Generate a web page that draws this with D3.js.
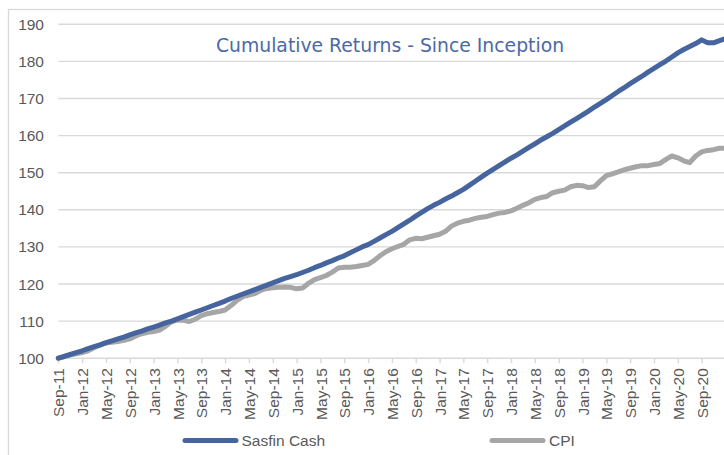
<!DOCTYPE html>
<html>
<head>
<meta charset="utf-8">
<script src="https://cdn.jsdelivr.net/npm/d3@7"></script>
<style>
  html, body { margin: 0; padding: 0; background: #fff; }
  svg { display: block; }
</style>
</head>
<body>
<div id="chart"></div>
<script>
// ---- data ----
const startMonth = "2011-09-01";
const monthCount = 113; // Sep-11 .. Jan-21
const sasfinCash = [
  100.0,100.5,101.0,101.5,102.0,102.6,103.1,103.6,104.2,104.7,
  105.2,105.7,106.3,106.8,107.3,107.9,108.4,108.9,109.5,110.0,
  110.6,111.2,111.8,112.4,113.0,113.6,114.2,114.8,115.4,116.1,
  116.7,117.3,117.9,118.5,119.1,119.7,120.3,120.9,121.5,122.0,
  122.5,123.1,123.7,124.4,125.0,125.7,126.3,127.0,127.6,128.4,
  129.2,130.0,130.6,131.5,132.4,133.3,134.2,135.2,136.2,137.2,
  138.3,139.3,140.3,141.2,142.0,142.9,143.7,144.6,145.5,146.6,
  147.7,148.8,149.9,150.9,151.9,152.9,153.9,154.8,155.8,156.8,
  157.8,158.8,159.7,160.6,161.6,162.6,163.6,164.6,165.6,166.6,
  167.7,168.7,169.7,170.8,171.9,172.9,174.0,175.0,176.0,177.1,
  178.1,179.1,180.1,181.2,182.3,183.2,184.0,184.8,185.8,185.0,
  185.0,185.6,186.1
];
const cpi = [
  100.0,100.4,100.9,101.2,101.5,102.0,102.8,103.5,104.1,104.3,
  104.5,104.8,105.2,106.0,106.6,107.0,107.2,107.6,108.6,109.8,
  110.3,110.2,109.9,110.5,111.5,112.0,112.3,112.6,113.0,114.2,
  115.6,116.6,117.0,117.4,118.3,118.8,119.0,119.1,119.2,119.1,
  118.7,118.9,120.2,121.2,121.7,122.3,123.2,124.3,124.5,124.5,
  124.7,125.0,125.3,126.3,127.6,128.7,129.5,130.1,130.7,131.9,
  132.3,132.2,132.6,133.0,133.4,134.2,135.6,136.4,136.9,137.2,
  137.7,138.0,138.2,138.7,139.1,139.3,139.7,140.4,141.2,141.9,
  142.8,143.3,143.6,144.6,145.0,145.3,146.2,146.6,146.5,146.0,
  146.2,147.8,149.2,149.7,150.2,150.8,151.2,151.6,151.9,151.9,
  152.2,152.5,153.6,154.5,154.0,153.2,152.7,154.5,155.6,156.0,
  156.2,156.6,156.6
];
const tickLabels = ["Sep-11","Jan-12","May-12","Sep-12","Jan-13","May-13","Sep-13","Jan-14",
  "May-14","Sep-14","Jan-15","May-15","Sep-15","Jan-16","May-16","Sep-16","Jan-17","May-17",
  "Sep-17","Jan-18","May-18","Sep-18","Jan-19","May-19","Sep-19","Jan-20","May-20","Sep-20"];
const yTicks = [100,110,120,130,140,150,160,170,180,190];
const seriesNames = ["Sasfin Cash", "CPI"];
const title = "Cumulative Returns - Since Inception";

// ---- layout ----
const W = 724, H = 455;
const fmt = d3.timeFormat("%b-%y");
const start = new Date(startMonth + "T00:00:00");
const categories = d3.range(monthCount).map(i => fmt(d3.timeMonth.offset(start, i)));

const x0 = 58.3, step = 5.957;
const x = d3.scalePoint().domain(categories).range([x0, x0 + step * (monthCount - 1)]).padding(0);
const y = d3.scaleLinear().domain([100, 190]).range([358.2, 24.3]);

const svg = d3.select("#chart").append("svg").attr("width", W).attr("height", H);

// outer chart border
svg.append("rect").attr("x", 8.5).attr("y", 9.5).attr("width", W + 10).attr("height", H + 10)
  .attr("fill", "#fff").attr("stroke", "#d9d9d9").attr("stroke-width", 1.3);

// gridlines
svg.append("g").selectAll("line").data(yTicks.slice(1)).join("line")
  .attr("x1", x0).attr("x2", W + 5)
  .attr("y1", d => y(d)).attr("y2", d => y(d))
  .attr("stroke", "#d9d9d9").attr("stroke-width", 1.4);

// y labels
svg.append("g").selectAll("text").data(yTicks).join("text")
  .attr("x", 44).attr("y", d => y(d)).attr("dy", "0.36em")
  .attr("text-anchor", "end")
  .attr("font-family", "Liberation Sans, Arial, sans-serif").attr("font-size", 15.5)
  .attr("fill", "#595959").text(d => d);

// x axis
const xAxis = d3.axisBottom(x).tickValues(tickLabels).tickSize(5).tickPadding(10).tickSizeOuter(0);
const gx = svg.append("g").attr("transform", `translate(0,${y(100)})`).call(xAxis);
gx.select(".domain").attr("stroke", "#d9d9d9").attr("stroke-width", 1.4)
  .attr("d", `M${x0},0H${W + 5}`);
gx.selectAll(".tick line").attr("stroke", "#d9d9d9").attr("stroke-width", 1.4);
gx.selectAll(".tick text")
  .attr("font-family", "Liberation Sans, Arial, sans-serif").attr("font-size", 15.5)
  .attr("fill", "#595959")
  .attr("transform", "rotate(-90)")
  .attr("text-anchor", "end")
  .attr("x", -10).attr("y", 0).attr("dy", "0.36em");

// lines
const line = d3.line().x((d, i) => x(categories[i])).y(d => y(d)).curve(d3.curveLinear);
svg.append("path").datum(cpi).attr("d", line)
  .attr("fill", "none").attr("stroke", "#a6a6a6").attr("stroke-width", 5)
  .attr("stroke-linejoin", "round").attr("stroke-linecap", "round");
svg.append("path").datum(sasfinCash).attr("d", line)
  .attr("fill", "none").attr("stroke", "#46659f").attr("stroke-width", 5)
  .attr("stroke-linejoin", "round").attr("stroke-linecap", "round");

// title
svg.append("text").attr("x", 390).attr("y", 52.3).attr("text-anchor", "middle")
  .attr("font-family", "DejaVu Sans, Verdana, sans-serif").attr("font-size", 18.8)
  .attr("fill", "#4a6aa6").text(title);

// legend
const legend = [
  {name: seriesNames[0], color: "#46659f", x1: 185, x2: 236, tx: 241.5},
  {name: seriesNames[1], color: "#a6a6a6", x1: 492, x2: 543, tx: 549}
];
const lg = svg.append("g").selectAll("g").data(legend).join("g");
lg.append("line").attr("x1", d => d.x1).attr("x2", d => d.x2).attr("y1", 440.5).attr("y2", 440.5)
  .attr("stroke", d => d.color).attr("stroke-width", 5).attr("stroke-linecap", "round");
lg.append("text").attr("x", d => d.tx).attr("y", 440.5).attr("dy", "0.36em")
  .attr("font-family", "Liberation Sans, Arial, sans-serif").attr("font-size", 15.5)
  .attr("fill", "#595959").text(d => d.name);
</script>
</body>
</html>
